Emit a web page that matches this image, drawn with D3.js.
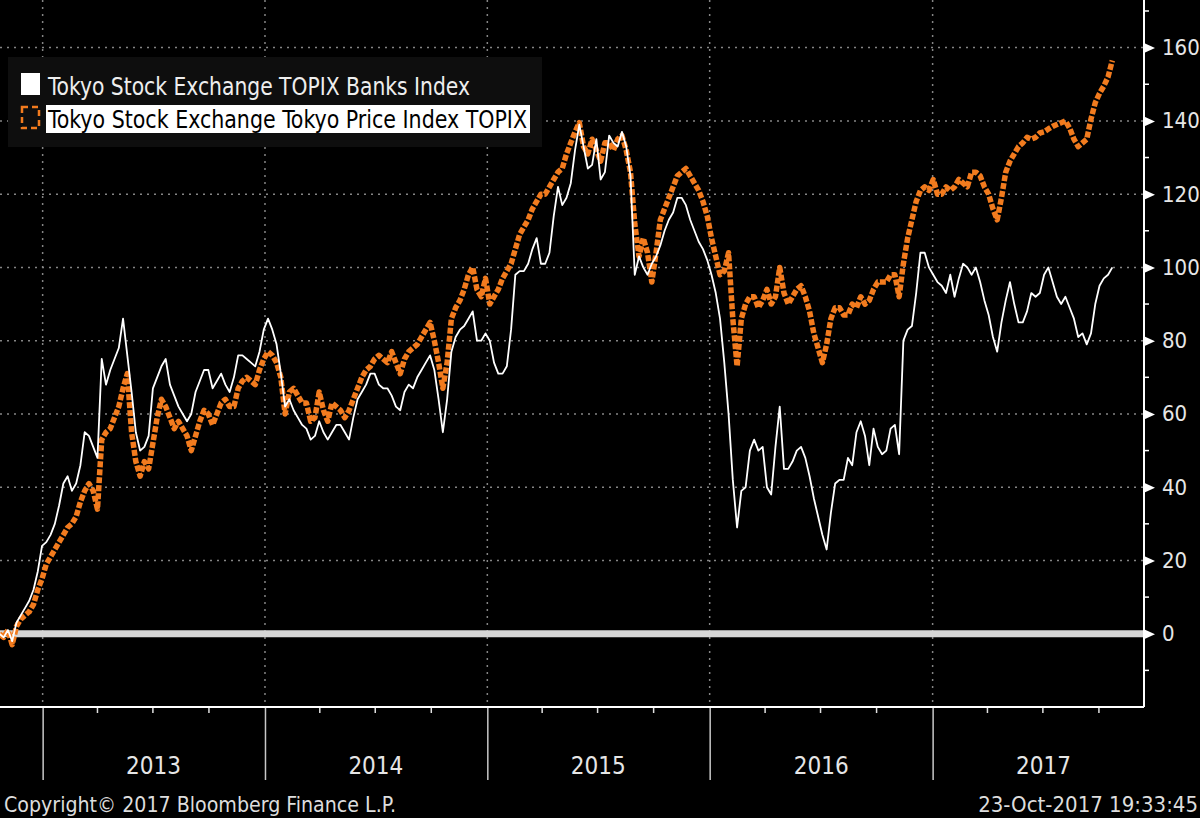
<!DOCTYPE html>
<meta charset="utf-8">
<script src="https://d3js.org/d3.v7.min.js"></script>
<style>
  body { margin: 0; background: #000; }
  svg { display: block; }
  text { font-family: "DejaVu Sans Condensed", "Liberation Sans Narrow", "Liberation Sans", sans-serif; }
</style>
<div id="chart"></div>
<script>
  // weekly observations (Mondays), 22-Oct-2012 .. 23-Oct-2017, % change from start
  const startDate = new Date(2012, 9, 22),
    endDate = new Date(2017, 9, 24);
  const weekDates = d3.timeMonday.range(startDate, endDate);

  // Tokyo Stock Exchange Tokyo Price Index TOPIX
  const topixValues = [
    0, -1, 1, -3, 2, 4, 5, 6, 8, 12,
    15, 19, 21, 23, 25, 27, 29, 30, 32, 36,
    39, 41, 39, 34, 53, 55, 56, 59, 62, 67,
    71, 55, 47, 43, 47, 45, 52, 59, 64, 62,
    59, 56, 58, 56, 54, 50, 54, 58, 61, 60,
    57, 60, 63, 64, 62, 62, 67, 69, 70, 69,
    68, 72, 75, 77, 76, 74, 70, 60, 66, 67,
    65, 63, 63, 58, 59, 66, 61, 58, 63, 62,
    61, 59, 61, 64, 67, 70, 72, 73, 75, 76,
    75, 74, 77, 74, 71, 75, 77, 78, 79, 81,
    83, 85, 80, 74, 67, 74, 86, 89, 91, 94,
    98, 100, 94, 92, 97, 90, 92, 94, 97, 99,
    101, 105, 109, 111, 113, 116, 118, 120, 120, 122,
    124, 126, 127, 131, 134, 137, 139.5, 133, 131, 135,
    132, 129, 134, 134, 132, 135, 136, 132, 126, 112,
    103, 108, 104, 96, 104, 113, 116, 119, 122, 125,
    126, 127, 125, 123, 121, 118, 114, 108, 103, 98,
    99, 104, 86, 73, 86, 90, 92, 92, 89, 91,
    94, 90, 92, 100, 93, 90, 92, 94, 95, 92,
    88, 82, 78, 74, 79, 86, 89, 89, 87, 87,
    90, 89, 92, 90, 91, 94, 96, 96, 96, 98,
    98, 92, 101, 108, 113, 118, 121, 122, 121, 124,
    120, 120, 122, 121, 122, 124, 123, 122, 126, 126,
    125, 122, 120, 116, 113, 119, 126, 129, 131, 133,
    134, 135.5, 135, 135.5, 136.7, 137, 137.8, 138.5, 139, 139.5,
    140, 138, 135, 133, 134, 135, 140.5, 145, 147.5, 149.5,
    152, 156.5
  ];

  // Tokyo Stock Exchange TOPIX Banks Index
  const banksValues = [
    0, -1, 1, -2, 3, 5, 7, 9, 12, 17,
    24, 25, 27, 30, 35, 41, 43, 39, 41, 46,
    55, 54, 51, 48, 75, 68, 72, 75, 78, 86,
    76, 66, 55, 50, 51, 54, 67, 70, 73, 75,
    68, 65, 62, 60, 58, 60, 66, 69, 72, 72,
    67, 69, 71, 68, 66, 70, 76, 76, 75, 74,
    73, 77, 83, 86, 83, 79, 71, 62, 64, 61,
    59, 57, 56, 53, 54, 58, 55, 53, 55, 57,
    57, 55, 53, 59, 64, 66, 68, 71, 71, 68,
    67, 67, 65, 62, 61, 66, 68, 67, 70, 72,
    74, 76, 72, 64, 55, 64, 77, 81, 83, 84,
    86, 88, 80, 80, 82, 80, 74, 71, 71, 73,
    83, 98, 99, 99, 101, 105, 108, 101, 101, 104,
    114, 122, 117, 119, 123, 132, 139, 133, 127, 128,
    135, 124, 126, 136, 134, 133, 137, 133, 125, 98,
    103, 100, 98, 101, 103, 106, 110, 113, 115, 119,
    119, 117, 113, 110, 107, 105, 102, 98, 93, 86,
    74, 60, 42, 29, 39, 40, 50, 53, 50, 51,
    40, 38, 51, 62, 45, 45, 47, 50, 51, 48,
    43, 37, 32, 27, 23, 33, 41, 42, 42, 48,
    46, 55, 58, 54, 46, 56, 51, 49, 50, 56,
    57, 49, 80, 83, 84, 93, 104, 104, 100, 98,
    96, 95, 93, 98, 92, 97, 101, 100, 98, 100,
    96, 91, 87, 81, 77, 85, 91, 96, 90, 85,
    85, 88, 93, 92, 93, 98, 100, 96, 92, 90,
    92, 89, 86, 81, 82, 79, 82, 90, 95, 97,
    98, 100
  ];

  const yTickValues = [0, 20, 40, 60, 80, 100, 120, 140, 160];
  const yMinorTicks = [-10, 10, 30, 50, 70, 90, 110, 130, 150, 170];
  const yearLabels = ["2013", "2014", "2015", "2016", "2017"];
  const legendLabels = ["Tokyo Stock Exchange TOPIX Banks Index", "Tokyo Stock Exchange Tokyo Price Index TOPIX"];
  const footerLeft = "Copyright\u00A9 2017 Bloomberg Finance L.P.";
  const footerRight = "23-Oct-2017 19:33:45";

  const width = 1200, height = 818;
  const plotRight = 1144, plotBottom = 707;
  const orange = "#f27b1e";

  const svg = d3.select("#chart")
    .append("svg")
    .attr("width", width)
    .attr("height", height)
    .style("background", "#000");

  const x = d3.scaleTime()
    .domain([new Date(2012, 9, 23), new Date(2017, 11, 14)])
    .range([0, plotRight]);
  const y = d3.scaleLinear()
    .domain([-20, 173])
    .range([plotBottom, 0]);

  // dotted grid
  svg.append("g")
    .selectAll("line")
    .data(yTickValues.filter(d => d !== 0))
    .join("line")
    .attr("x1", 0).attr("x2", plotRight)
    .attr("y1", d => y(d)).attr("y2", d => y(d))
    .attr("stroke", "#858585")
    .attr("stroke-width", 1.5)
    .attr("stroke-dasharray", "2,5");

  const yearStarts = yearLabels.map(s => new Date(+s, 0, 1));
  svg.append("g")
    .selectAll("line")
    .data(yearStarts)
    .join("line")
    .attr("x1", d => x(d)).attr("x2", d => x(d))
    .attr("y1", 0).attr("y2", plotBottom)
    .attr("stroke", "#858585")
    .attr("stroke-width", 1.5)
    .attr("stroke-dasharray", "2,5");

  // zero line
  svg.append("line")
    .attr("x1", 0).attr("x2", plotRight)
    .attr("y1", y(0)).attr("y2", y(0))
    .attr("stroke", "#d6d6d6")
    .attr("stroke-width", 7);

  // series
  svg.append("clipPath").attr("id", "plot")
    .append("rect").attr("x", 0).attr("y", 0).attr("width", plotRight).attr("height", plotBottom);

  const line = d3.line()
    .x((d, i) => x(weekDates[i]))
    .y(d => y(d));

  svg.append("path")
    .datum(topixValues)
    .attr("clip-path", "url(#plot)")
    .attr("d", line)
    .attr("fill", "none")
    .attr("stroke", orange)
    .attr("stroke-width", 5.5)
    .attr("stroke-linejoin", "round")
    .attr("stroke-dasharray", "6,2");

  svg.append("path")
    .datum(banksValues)
    .attr("clip-path", "url(#plot)")
    .attr("d", line)
    .attr("fill", "none")
    .attr("stroke", "#ffffff")
    .attr("stroke-width", 1.8)
    .attr("stroke-linejoin", "round");

  // right axis
  const yAxis = svg.append("g")
    .attr("transform", `translate(${plotRight},0)`)
    .call(d3.axisRight(y).tickValues(yTickValues).tickSize(0).tickPadding(18));
  yAxis.select(".domain").remove();
  yAxis.selectAll("text")
    .attr("fill", "#e6e6e6")
    .style("font-size", "22px");
  yAxis.selectAll(".tick").append("path")
    .attr("d", "M0,-5L11,0L0,5Z")
    .attr("fill", "#fff");
  yAxis.append("g")
    .selectAll("line")
    .data(yMinorTicks)
    .join("line")
    .attr("x1", 0).attr("x2", 5)
    .attr("y1", d => y(d)).attr("y2", d => y(d))
    .attr("stroke", "#fff")
    .attr("stroke-width", 1.5);
  svg.append("line")
    .attr("x1", plotRight).attr("x2", plotRight)
    .attr("y1", 0).attr("y2", plotBottom)
    .attr("stroke", "#fff")
    .attr("stroke-width", 2);

  // bottom axis
  const xAxis = svg.append("g")
    .attr("transform", `translate(0,${plotBottom})`)
    .call(d3.axisBottom(x).tickValues(yearStarts).tickSize(73).tickFormat(""));
  xAxis.select(".domain").remove();
  xAxis.selectAll(".tick line").attr("stroke", "#c8c8c8").attr("stroke-width", 1.5);

  const quarters = d3.timeMonth.every(3).range(new Date(2012, 9, 1), new Date(2017, 11, 1))
    .filter(d => d.getMonth() !== 0 && x(d) > 0);
  svg.append("g")
    .selectAll("line")
    .data(quarters)
    .join("line")
    .attr("x1", d => x(d)).attr("x2", d => x(d))
    .attr("y1", plotBottom).attr("y2", plotBottom + 6)
    .attr("stroke", "#e0e0e0")
    .attr("stroke-width", 1.5);

  svg.append("line")
    .attr("x1", 0).attr("x2", plotRight)
    .attr("y1", plotBottom).attr("y2", plotBottom)
    .attr("stroke", "#fff")
    .attr("stroke-width", 2);

  svg.append("g")
    .selectAll("text")
    .data(yearLabels)
    .join("text")
    .attr("x", d => x(new Date(+d, 6, 2)))
    .attr("y", 774)
    .attr("text-anchor", "middle")
    .attr("fill", "#e6e6e6")
    .style("font-size", "24px")
    .text(d => d);

  // legend
  svg.append("rect")
    .attr("x", 8).attr("y", 57)
    .attr("width", 534).attr("height", 90)
    .attr("fill", "#0e0e0e");
  svg.append("rect")
    .attr("x", 21).attr("y", 73)
    .attr("width", 19).attr("height", 22)
    .attr("fill", "#fff");
  svg.append("text")
    .attr("x", 48).attr("y", 95)
    .attr("fill", "#eeeeee")
    .attr("textLength", 422)
    .attr("lengthAdjust", "spacingAndGlyphs")
    .style("font-size", "24px")
    .text(legendLabels[0]);
  svg.append("rect")
    .attr("x", 46).attr("y", 105)
    .attr("width", 484).attr("height", 28)
    .attr("fill", "#fff");
  svg.append("rect")
    .attr("x", 22).attr("y", 107)
    .attr("width", 17).attr("height", 21)
    .attr("fill", "none")
    .attr("stroke", orange)
    .attr("stroke-width", 2.5)
    .attr("stroke-dasharray", "6,4");
  svg.append("text")
    .attr("x", 48).attr("y", 128)
    .attr("fill", "#000")
    .attr("textLength", 479)
    .attr("lengthAdjust", "spacingAndGlyphs")
    .style("font-size", "24px")
    .text(legendLabels[1]);

  // footer
  svg.append("text")
    .attr("x", 4).attr("y", 812)
    .attr("fill", "#dddddd")
    .attr("textLength", 392)
    .attr("lengthAdjust", "spacingAndGlyphs")
    .style("font-size", "22px")
    .text(footerLeft);
  svg.append("text")
    .attr("x", 1198).attr("y", 812)
    .attr("text-anchor", "end")
    .attr("fill", "#dddddd")
    .style("font-size", "22px")
    .text(footerRight);
</script>
